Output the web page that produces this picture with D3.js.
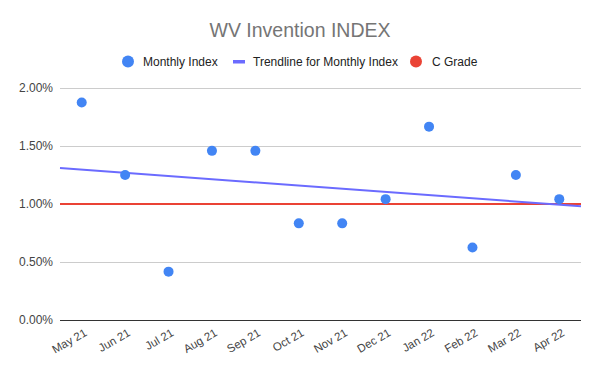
<!DOCTYPE html>
<html>
<head>
<meta charset="utf-8">
<script src="https://cdn.jsdelivr.net/npm/d3@7"></script>
<style>
  body { margin: 0; background: #fff; }
  text { font-family: "Liberation Sans", Arial, sans-serif; }
</style>
</head>
<body>
<div id="chart"></div>
<script>
// data
const months = ["May 21", "Jun 21", "Jul 21", "Aug 21", "Sep 21", "Oct 21",
                "Nov 21", "Dec 21", "Jan 22", "Feb 22", "Mar 22", "Apr 22"];
const monthlyIndex = [0.01875, 0.0125, 0.00417, 0.01458, 0.01458, 0.00833,
                      0.00833, 0.01042, 0.01667, 0.00625, 0.0125, 0.01042];
// trendline value at left and right edge of the plot
const trendEnds = [0.0131, 0.0098];
const cGrade = 0.01;
const yTicks = [0, 0.005, 0.01, 0.015, 0.02];

const width = 600, height = 371;
const margin = { top: 88, right: 19, bottom: 51, left: 60 };

const svg = d3.select("#chart").append("svg")
    .attr("width", width)
    .attr("height", height);

svg.append("text")
    .attr("x", 300).attr("y", 37)
    .attr("text-anchor", "middle")
    .attr("fill", "#757575")
    .style("font-size", "19.5px")
    .text("WV Invention INDEX");

let x = d3.scaleBand()
    .domain(months)
    .range([margin.left, width - margin.right]);

let y = d3.scaleLinear()
    .domain([0, 0.02])
    .range([height - margin.bottom, margin.top]);

// gridlines + y labels
let yAxis = svg.append("g")
    .attr("transform", "translate(" + margin.left + ",0)")
    .call(d3.axisLeft(y).tickValues(yTicks).tickFormat(d3.format(".2%"))
        .tickSize(-(width - margin.left - margin.right)).tickPadding(7));
yAxis.select(".domain").remove();
yAxis.selectAll("line").attr("stroke", "#cccccc");
yAxis.selectAll("text").attr("fill", "#444").style("font-size", "12px");
yAxis.selectAll(".tick").filter(d => d === 0).select("line").attr("stroke", "#333");

// x labels
let xAxis = svg.append("g")
    .attr("transform", "translate(0," + (height - margin.bottom) + ")")
    .call(d3.axisBottom(x).tickSize(0).tickPadding(0));
xAxis.select(".domain").remove();
xAxis.selectAll("text")
    .attr("fill", "#444")
    .style("font-size", "11.5px")
    .attr("text-anchor", "end")
    .attr("dy", null)
    .attr("transform", "translate(6,15) rotate(-30)");

// C grade line
svg.append("line")
    .attr("x1", margin.left).attr("x2", width - margin.right)
    .attr("y1", y(cGrade)).attr("y2", y(cGrade))
    .attr("stroke", "#ea4335").attr("stroke-width", 2);

// trendline
svg.append("line")
    .attr("x1", margin.left).attr("x2", width - margin.right)
    .attr("y1", y(trendEnds[0])).attr("y2", y(trendEnds[1]))
    .attr("stroke", "#6b6bff").attr("stroke-width", 2);

// points
svg.selectAll("circle.pt")
    .data(months)
    .enter()
    .append("circle")
    .attr("class", "pt")
    .attr("cx", d => x(d) + x.bandwidth() / 2)
    .attr("cy", (d, i) => y(monthlyIndex[i]))
    .attr("r", 5)
    .attr("fill", "#4285f4");

// legend
let legend = svg.append("g").style("font-size", "12px");
legend.append("circle").attr("cx", 128).attr("cy", 61.5).attr("r", 6).attr("fill", "#4285f4");
legend.append("text").attr("x", 143).attr("y", 66).attr("fill", "#222").text("Monthly Index");
legend.append("rect").attr("x", 233).attr("y", 60).attr("width", 12).attr("height", 3.5).attr("fill", "#6b6bff");
legend.append("text").attr("x", 253).attr("y", 66).attr("fill", "#222").text("Trendline for Monthly Index");
legend.append("circle").attr("cx", 416).attr("cy", 61.5).attr("r", 6).attr("fill", "#ea4335");
legend.append("text").attr("x", 432).attr("y", 66).attr("fill", "#222").text("C Grade");
</script>
</body>
</html>
